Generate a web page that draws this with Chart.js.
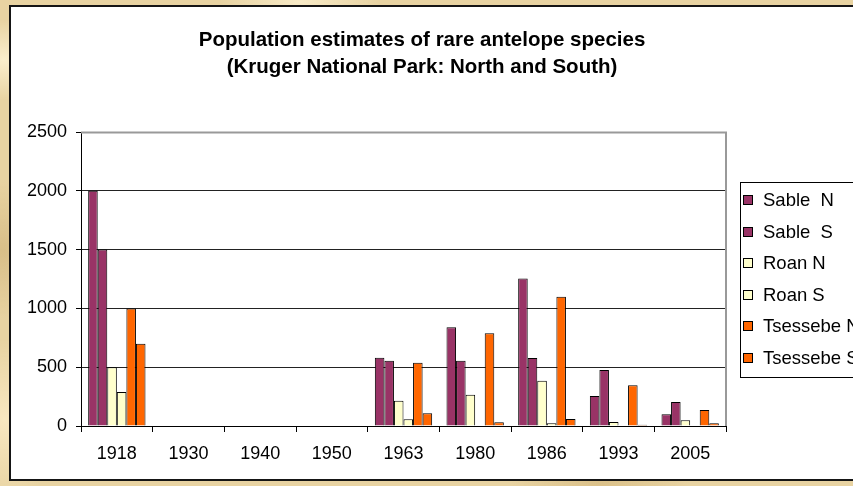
<!DOCTYPE html>
<html><head><meta charset="utf-8">
<script src="https://cdn.jsdelivr.net/npm/chart.js@4/dist/chart.umd.min.js"></script>
<style>
html,body{margin:0;padding:0;width:853px;height:486px;overflow:hidden;}
body{background-color:#e8d3a2;
background-image:
radial-gradient(ellipse 60px 40px at 4px 60px, rgba(255,245,215,.8), transparent),
radial-gradient(ellipse 50px 70px at 3px 250px, rgba(200,170,110,.5), transparent),
radial-gradient(ellipse 80px 20px at 300px 2px, rgba(255,245,215,.7), transparent),
radial-gradient(ellipse 90px 20px at 600px 484px, rgba(210,180,120,.6), transparent),
radial-gradient(ellipse 60px 80px at 5px 420px, rgba(255,240,205,.7), transparent);}
#box{position:absolute;left:9px;top:5px;width:900px;height:472px;background:#fff;border:2px solid #151515;}
#wrap{position:absolute;left:0;top:0;width:853px;height:486px;}
</style></head>
<body><div id="box"></div><div id="wrap"><canvas id="c" width="853" height="486"></canvas></div>
<script>
const categories = ['1918','1930','1940','1950','1963','1980','1986','1993','2005'];
const sableN    = [2000, null, null, null, 580, 840, 1255, 255, 100];
const sableS    = [1500, null, null, null, 555, 555, 578, 476, 204];
const roanN     = [500,  null, null, null, 215, 266, 385, 34, 48];
const roanS     = [290,  null, null, null, 57,  null, 23, null, null];
const tsessebeN = [1000, null, null, null, 538, 788, 1100, 346, 136];
const tsessebeS = [700,  null, null, null, 108, 31, 60, 10, 23];
const seriesNames = ['Sable  N','Sable  S','Roan N','Roan S','Tsessebe N','Tsessebe S'];
const yTicks = [0, 500, 1000, 1500, 2000, 2500];
const titleLines = ['Population estimates of rare antelope species','(Kruger National Park: North and South)'];

const colors = ['#993366','#993366','#FFFFCC','#FFFFCC','#FF6600','#FF6600'];
const series = [sableN, sableS, roanN, roanS, tsessebeN, tsessebeS];
const FONT = '"Liberation Sans", Arial, sans-serif';

const titlePlugin = {
  id: 'centerTitle',
  afterDraw(chart) {
    const ctx = chart.ctx;
    ctx.save();
    ctx.fillStyle = '#000';
    ctx.font = 'bold 20.5px ' + FONT;
    ctx.textAlign = 'center';
    ctx.textBaseline = 'middle';
    titleLines.forEach((t, i) => ctx.fillText(t, 422, 40 + i * 27));
    ctx.restore();
  }
};
const legendPlugin = {
  id: 'sideLegend',
  afterDraw(chart) {
    const ctx = chart.ctx;
    ctx.save();
    ctx.fillStyle = '#fff';
    ctx.fillRect(740, 182, 200, 195);
    ctx.strokeStyle = '#000';
    ctx.lineWidth = 1;
    ctx.strokeRect(740.5, 182.5, 200, 195);
    ctx.font = '18.5px ' + FONT;
    ctx.textBaseline = 'middle';
    chart.data.datasets.forEach((ds, i) => {
      const y = Math.round(200 + i * 31.6);
      ctx.fillStyle = ds.backgroundColor;
      ctx.fillRect(743, y - 5, 10, 10);
      ctx.strokeRect(743.5, y - 4.5, 9, 9);
      ctx.fillStyle = '#000';
      ctx.fillText(ds.label, 763, y + 1);
    });
    ctx.restore();
  }
};
const borderPlugin = {
  id: 'plotBorder',
  afterDatasetsDraw(chart) {
    const a = chart.chartArea, ctx = chart.ctx;
    ctx.save();
    ctx.strokeStyle = '#999';
    ctx.lineWidth = 2;
    ctx.beginPath();
    ctx.moveTo(a.left, a.top + 0.5);
    ctx.lineTo(a.right + 1, a.top + 0.5);
    ctx.moveTo(a.right, a.top);
    ctx.lineTo(a.right, a.bottom);
    ctx.stroke();
    ctx.restore();
  }
};

new Chart(document.getElementById('c'), {
  type: 'bar',
  data: {
    labels: categories,
    datasets: series.map((d, i) => ({
      label: seriesNames[i], data: d,
      backgroundColor: colors[i], borderColor: '#000', borderWidth: 1,
      categoryPercentage: 0.8, barPercentage: 1.0
    }))
  },
  options: {
    responsive: false, animation: false,
    layout: { padding: { left: 0, right: 127, top: 132, bottom: 0 } },
    plugins: {
      legend: { display: false },
      tooltip: { enabled: false },
      title: { display: false }
    },
    scales: {
      x: {
        offset: true,
        grid: { display: true, drawOnChartArea: false, drawTicks: true, tickLength: 6, color: '#000', offset: true },
        border: { display: true, color: '#000', width: 1 },
        ticks: { color: '#000', font: { family: FONT, size: 18 }, padding: 11, maxRotation: 0 },
        afterFit(s) { s.height = 60; }
      },
      y: {
        min: 0, max: 2500,
        afterBuildTicks(s) { s.ticks = yTicks.map(v => ({ value: v })); },
        grid: { color: (c) => c.tick && c.tick.value === 2500 ? '#999' : '#222', tickColor: '#000', tickLength: 5, lineWidth: 1 },
        border: { display: true, color: '#000', width: 1 },
        ticks: { color: '#000', font: { family: FONT, size: 18 }, padding: 9, callback: (v) => String(v) },
        afterFit(s) { s.width = 81; }
      }
    }
  },
  plugins: [titlePlugin, legendPlugin, borderPlugin]
});
</script>
</body></html>
